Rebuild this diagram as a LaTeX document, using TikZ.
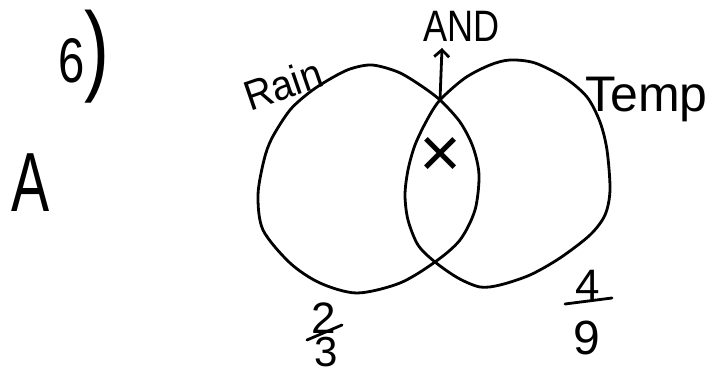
\documentclass[tikz,border=0pt]{standalone}
\usepackage{fontspec}
\usetikzlibrary{arrows.meta}
\setmainfont{Liberation Sans}
\newcommand{\fsz}[1]{\fontsize{#1}{#1}\selectfont}
\begin{document}
\begin{tikzpicture}[x=1pt,y=-1pt,line width=2.8pt,line join=round,line cap=round,
  lbl/.style={inner sep=0pt}]
\useasboundingbox (0,0) rectangle (713,371);
% the two loops
\draw plot[smooth cycle] coordinates {(350,69) (372,65) (398,72) (420,85) (440,100) (460,122)
  (473,147) (479,175) (475,210) (460,240) (435,262) (400,283) (357,293) (320,283)
  (290,263) (263,230) (258,195) (264,160) (272,138) (290,110) (310,92) (330,79)};
\draw plot[smooth cycle] coordinates {(440,100) (465,78) (490,65) (510,60) (535,63) (565,78)
  (587,97) (600,122) (607,150) (610,190) (605,215) (590,235) (560,258) (530,275)
  (500,285) (480,287) (458,278) (435,262) (418,245) (408,220) (405,195) (408,170)
  (415,145) (427,120)};
\coordinate (meet) at (440,100);
\coordinate (tip) at (442,48);
\draw[-{Straight Barb[length=7pt,width=15pt]}] (meet) -- (tip);
% labels
\node[lbl,anchor=base west,xscale=.75] (six) at (57,83) {\fsz{63}6\fsz{100})};
\node[lbl,anchor=base,xscale=.68] (partA) at (31,212) {\fsz{84}A};
\node[lbl,anchor=base west,xscale=.82] (and) at (422,42) {\fsz{44}AND};
\node[lbl,anchor=base west,rotate=19,xscale=.92] (rain) at (249,112) {\fsz{42}Rain};
\node[lbl,anchor=base west] (temp) at (584,112) {\fsz{50}Temp};
\node[lbl] (cross) at (441,157) {\fsz{72}×};
% fractions
\node[lbl] (two) at (324,318) {\fsz{44}2};
\node[lbl] (three) at (326,352) {\fsz{42}3};
\draw (307,340) -- (342,325);
\node[lbl] (four) at (588,285) {\fsz{44}4};
\node[lbl] (nine) at (587,338) {\fsz{48}9};
\draw (565,304) -- (612,298);
\end{tikzpicture}
\end{document}
